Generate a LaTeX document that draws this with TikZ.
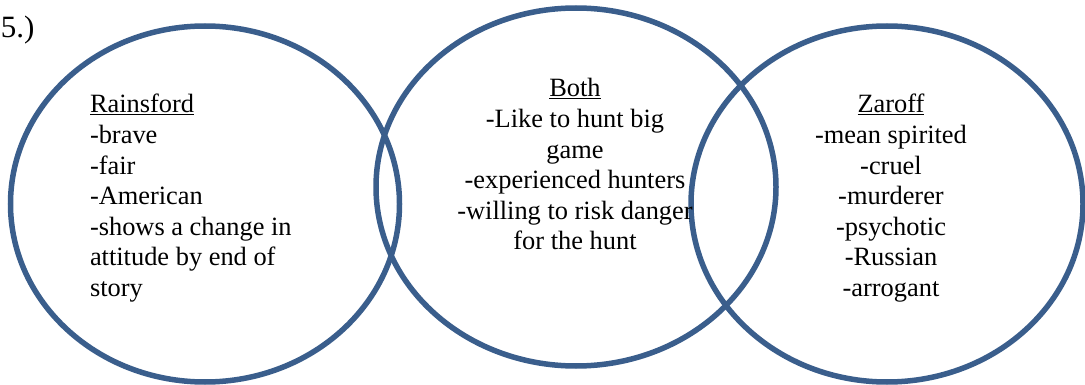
\documentclass[tikz,border=0pt]{standalone}
\usepackage{fontspec}
\setmainfont{Liberation Serif}
\usetikzlibrary{shapes.geometric}
\definecolor{vennblue}{HTML}{3A5E8C}
\tikzset{
  venn/.style={ellipse, draw=vennblue, line width=5.5pt, inner sep=0pt, outer sep=0pt},
  txt/.style={inner sep=0pt, outer sep=0pt, font=\fontsize{26.4}{30.6}\selectfont},
}
\begin{document}
\begin{tikzpicture}[x=1pt,y=-1pt]
\useasboundingbox (0,0) rectangle (1085,385);
\node[venn, minimum width=389pt, minimum height=356pt] (rains) at (205,204) {};
\node[venn, minimum width=400pt, minimum height=358pt] (both) at (576,187) {};
\node[venn, minimum width=392pt, minimum height=356pt] (zar) at (887,204) {};
\node[txt, anchor=base west, font=\fontsize{31}{34}\selectfont] (num) at (1,38) {5.)};
\node[txt, anchor=base west] (rt) at (90,113) {\begin{tabular}[t]{@{}l@{}}
\underline{Rainsford}\\ -brave\\ -fair\\ -American\\ -shows a change in\\ attitude by end of\\ story
\end{tabular}};
\node[txt, anchor=base] (bt) at (575,97) {\begin{tabular}[t]{@{}c@{}}
\underline{Both}\\ -Like to hunt big\\ game\\ -experienced hunters\\ -willing to risk danger\\ for the hunt
\end{tabular}};
\node[txt, anchor=base] (zt) at (891,113) {\begin{tabular}[t]{@{}c@{}}
\underline{Zaroff}\\ -mean spirited\\ -cruel\\ -murderer\\ -psychotic\\ -Russian\\ -arrogant
\end{tabular}};
\end{tikzpicture}
\end{document}
